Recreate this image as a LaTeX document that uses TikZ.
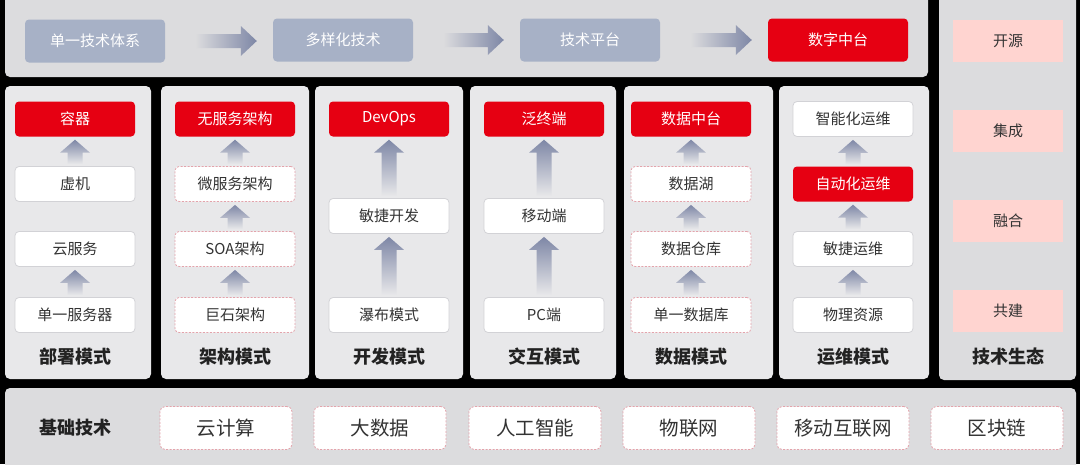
\documentclass[tikz,border=0pt]{standalone}
\usepackage{fontspec}
\setmainfont{Noto Sans CJK SC}
\usetikzlibrary{calc}
\definecolor{panelc}{HTML}{E8E8EA}
\definecolor{panelg}{HTML}{DCDCDE}
\definecolor{stepc}{HTML}{A7B1C6}
\definecolor{redc}{HTML}{E60012}
\definecolor{arrc}{HTML}{7E87A6}
\definecolor{pinkc}{HTML}{FFD4D0}
\definecolor{dashc}{HTML}{E3A3AB}
\definecolor{borderc}{HTML}{D2D2D6}
\definecolor{txtc}{HTML}{333333}
\definecolor{labc}{HTML}{222222}
\tikzset{
  panel/.style={fill=panelc, rounded corners=5pt},
  gpanel/.style={fill=panelg, rounded corners=5pt},
  cbox/.style={minimum width=120pt, minimum height=35pt, rounded corners=4pt,
    font=\fontsize{15}{17}\selectfont, text=txtc, inner sep=0pt},
  wbox/.style={cbox, fill=white, draw=borderc, line width=0.8pt},
  dbox/.style={cbox, fill=white, draw=dashc, dash pattern=on 2pt off 1.5pt, line width=0.8pt},
  rbox/.style={cbox, fill=redc, text=white},
  tbox/.style={minimum width=140pt, minimum height=43pt, rounded corners=4pt,
    fill=stepc, text=white, font=\fontsize{15}{17}\selectfont, inner sep=0pt},
  trbox/.style={tbox, fill=redc},
  pbox/.style={minimum width=110pt, minimum height=42pt, fill=pinkc, text=txtc,
    font=\fontsize{15}{17}\selectfont, inner sep=0pt},
  bbox/.style={minimum width=132pt, minimum height=43pt, rounded corners=5pt,
    fill=white, draw=dashc, dash pattern=on 2pt off 1.5pt, line width=0.8pt,
    text=txtc, font=\fontsize{19.5}{22}\selectfont, inner sep=0pt},
  lab/.style={font=\bfseries\fontsize{18}{20}\selectfont, text=labc, inner sep=0pt},
}
\newcommand\uparr[2]{%
  \path[top color=arrc, bottom color=panelc]
    let \p1=(#1.north), \p2=(#2.south) in
    (\x1-7.5pt,\y1+2pt) -- (\x1-7.5pt,\y2-16pt) -- (\x1-15pt,\y2-16pt) --
    (\x1,\y2-3pt) -- (\x1+15pt,\y2-16pt) -- (\x1+7.5pt,\y2-16pt) --
    (\x1+7.5pt,\y1+2pt) -- cycle;}
\newcommand\rarr[2]{%
  \path[left color=panelg, right color=arrc]
    let \p1=(#1.east), \p2=(#2.west) in
    (\x1+30pt,\y1+7pt) -- (\x2-32pt,\y1+7pt) -- (\x2-32pt,\y1+15pt) --
    (\x2-16pt,\y1) -- (\x2-32pt,\y1-15pt) -- (\x2-32pt,\y1-7pt) --
    (\x1+30pt,\y1-7pt) -- cycle;}
\begin{document}
\begin{tikzpicture}[x=1pt,y=-1pt]
\useasboundingbox (0,0) rectangle (1080,464);
\fill[black] (0,0) rectangle (1080,464);
% panels
\fill[gpanel] (5,-8) rectangle (928,77);
\fill[gpanel] (939,-8) rectangle (1076,380);
\fill[gpanel] (5,388) rectangle (1076,472);
\fill[panel] (5,86) rectangle (151,379);
\fill[panel] (161,86) rectangle (309,379);
\fill[panel] (315,86) rectangle (463,379);
\fill[panel] (470,86) rectangle (616,379);
\fill[panel] (624,86) rectangle (773,379);
\fill[panel] (779,86) rectangle (929,379);
% top row
\node[tbox] (t1) at (95,41) {单一技术体系};
\node[tbox] (t2) at (343,40) {多样化技术};
\node[tbox] (t3) at (590,40) {技术平台};
\node[trbox] (t4) at (838,40) {数字中台};
\rarr{t1}{t2}
\rarr{t2}{t3}
\rarr{t3}{t4}
% column 1
\node[rbox] (a1) at (75,119) {容器};
\node[wbox] (a2) at (75,184) {虚机};
\node[wbox] (a3) at (75,249) {云服务};
\node[wbox] (a4) at (75,315) {单一服务器};
\node[lab] (la) at (75,357) {部署模式};
\uparr{a2}{a1}
\uparr{a4}{a3}
% column 2
\node[rbox] (b1) at (235,119) {无服务架构};
\node[dbox] (b2) at (235,184) {微服务架构};
\node[dbox] (b3) at (235,249) {SOA架构};
\node[dbox] (b4) at (235,315) {巨石架构};
\node[lab] (lb) at (235,357) {架构模式};
\uparr{b2}{b1}
\uparr{b3}{b2}
\uparr{b4}{b3}
% column 3
\node[rbox] (c1) at (389,119) {DevOps};
\node[wbox] (c2) at (389,216) {敏捷开发};
\node[wbox] (c3) at (389,315) {瀑布模式};
\node[lab] (lc) at (389,357) {开发模式};
\uparr{c2}{c1}
\uparr{c3}{c2}
% column 4
\node[rbox] (d1) at (544,119) {泛终端};
\node[wbox] (d2) at (544,216) {移动端};
\node[wbox] (d3) at (544,315) {PC端};
\node[lab] (ld) at (544,357) {交互模式};
\uparr{d2}{d1}
\uparr{d3}{d2}
% column 5
\node[rbox] (e1) at (691,119) {数据中台};
\node[dbox] (e2) at (691,184) {数据湖};
\node[dbox] (e3) at (691,249) {数据仓库};
\node[dbox] (e4) at (691,315) {单一数据库};
\node[lab] (le) at (691,357) {数据模式};
\uparr{e2}{e1}
\uparr{e3}{e2}
\uparr{e4}{e3}
% column 6
\node[wbox] (f1) at (853,119) {智能化运维};
\node[rbox] (f2) at (853,184) {自动化运维};
\node[wbox] (f3) at (853,249) {敏捷运维};
\node[wbox] (f4) at (853,315) {物理资源};
\node[lab] (lf) at (853,357) {运维模式};
\uparr{f2}{f1}
\uparr{f3}{f2}
\uparr{f4}{f3}
% right panel
\node[pbox] (g1) at (1008,41) {开源};
\node[pbox] (g2) at (1008,131) {集成};
\node[pbox] (g3) at (1008,221) {融合};
\node[pbox] (g4) at (1008,311) {共建};
\node[lab] (lg) at (1008,357) {技术生态};
% bottom row
\node[lab] (h0) at (75,428) {基础技术};
\node[bbox] (h1) at (226,428) {云计算};
\node[bbox] (h2) at (380,428) {大数据};
\node[bbox] (h3) at (535,428) {人工智能};
\node[bbox] (h4) at (689,428) {物联网};
\node[bbox] (h5) at (843,428) {移动互联网};
\node[bbox] (h6) at (997,428) {区块链};
\end{tikzpicture}
\end{document}
